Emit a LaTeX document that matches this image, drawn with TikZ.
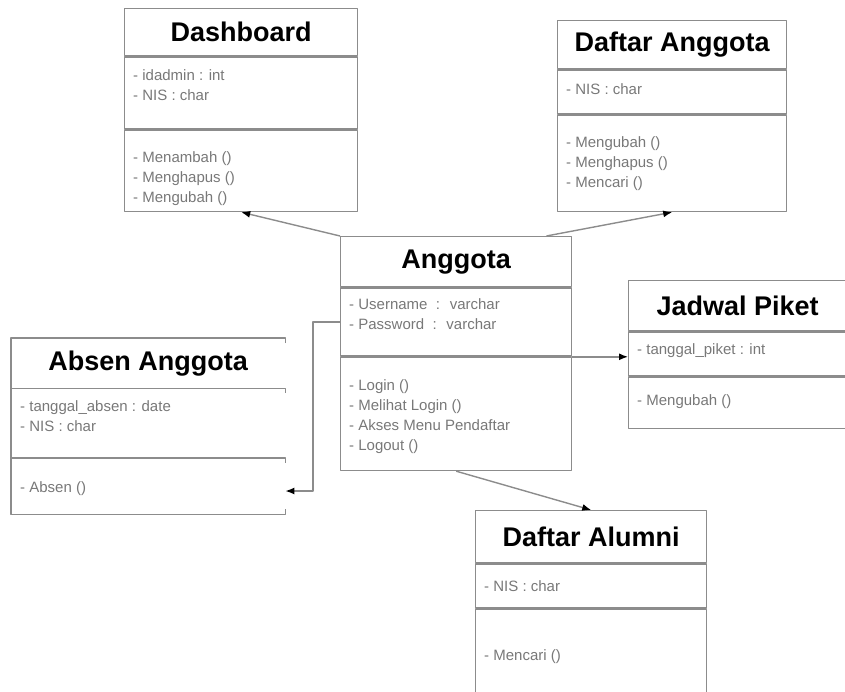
\documentclass[tikz,border=0pt]{standalone}
\usepackage{fontspec}
\setmainfont{Liberation Sans}
\usepackage{tikz}
\usetikzlibrary{arrows.meta, positioning}

\definecolor{linegray}{RGB}{140,140,140}
\definecolor{textgray}{RGB}{120,120,120}

\begin{document}
\begin{tikzpicture}[>={Latex[length=9pt,width=7pt,black]}, line join=bevel, x=1pt, y=-1pt,
        ttl/.style={draw=linegray, line width=1.4pt, anchor=north west, inner sep=0pt,
                font=\fontsize{27}{30}\selectfont\bfseries},
        part/.style={draw=linegray, line width=1.4pt, anchor=north, inner sep=0pt},
        txt/.style={anchor=north west, inner sep=0pt, align=left, text=textgray,
                font=\fontsize{15}{20}\selectfont},
        link/.style={->, draw=linegray, line width=1.4pt},
        edge/.style={draw=linegray, line width=1.4pt}]
        \useasboundingbox (0,0) rectangle (845,692);
        \clip (0,0) rectangle (845,692);

        % Dashboard
        \node[ttl, minimum width=233, minimum height=47] (dashT) at (124,8) {Dashboard};
        \node[part, minimum width=233, minimum height=72] (dashA) at (dashT.south) {};
        \node[part, minimum width=233, minimum height=81] (dashM) at (dashA.south) {};
        \node[txt] (dashAt) at ([shift={(9,13)}]dashA.north west) {- idadmin : int\\- NIS : char};
        \node[txt] (dashMt) at ([shift={(9,22)}]dashM.north west) {- Menambah ()\\- Menghapus ()\\- Mengubah ()};

        % Daftar Anggota
        \node[ttl, minimum width=229, minimum height=48] (dftT) at (557,20) {Daftar Anggota};
        \node[part, minimum width=229, minimum height=44] (dftA) at (dftT.south) {};
        \node[part, minimum width=229, minimum height=96] (dftM) at (dftA.south) {};
        \node[txt] (dftAt) at ([shift={(9,14)}]dftA.north west) {- NIS : char};
        \node[txt] (dftMt) at ([shift={(9,22)}]dftM.north west) {- Mengubah ()\\- Menghapus ()\\- Mencari ()};

        % Anggota
        \node[ttl, minimum width=231, minimum height=50] (angT) at (340,236) {Anggota};
        \node[part, minimum width=231, minimum height=68] (angA) at (angT.south) {};
        \node[part, minimum width=231, minimum height=113] (angM) at (angA.south) {};
        \node[txt] (angAt) at ([shift={(9,11)}]angA.north west) {- Username \ : \ varchar\\- Password \ : \ varchar};
        \node[txt] (angMt) at ([shift={(9,23)}]angM.north west) {- Login ()\\- Melihat Login ()\\- Akses Menu Pendaftar\\- Logout ()};

        % Jadwal Piket
        \node[ttl, minimum width=232, minimum height=50] (jadT) at (628,280) {\hspace*{-14pt}Jadwal Piket};
        \node[part, minimum width=232, minimum height=44] (jadA) at (jadT.south) {};
        \node[part, minimum width=232, minimum height=51] (jadM) at (jadA.south) {};
        \node[txt] (jadAt) at ([shift={(9,12)}]jadA.north west) {- tanggal\_piket : int};
        \node[txt] (jadMt) at ([shift={(9,18)}]jadM.north west) {- Mengubah ()};

        % Absen Anggota (right side left open)
        \node[ttl, draw=none, minimum width=273, minimum height=49] (absT) at (11,338) {Absen Anggota};
        \node[part, draw=none, minimum width=273, minimum height=68] (absA) at (absT.south) {};
        \node[part, draw=none, minimum width=273, minimum height=55] (absM) at (absA.south) {};
        \draw[edge] ([shift={(0,5)}]absT.north east) -- (absT.north east) -- (absT.north west)
                -- (absM.south west) -- (absM.south east) -- ++(0,-5);
        \draw[edge] (absA.north west) -- (absA.north east) -- ++(0,5);
        \draw[edge] (absM.north west) -- (absM.north east) -- ++(0,5);
        \node[txt] (absAt) at ([shift={(9,12)}]absA.north west) {- tanggal\_absen : date\\- NIS : char};
        \node[txt] (absMt) at ([shift={(9,24)}]absM.north west) {- Absen ()};

        % Daftar Alumni
        \node[ttl, minimum width=231, minimum height=52] (alumT) at (475,510) {Daftar Alumni};
        \node[part, minimum width=231, minimum height=44] (alumA) at (alumT.south) {};
        \node[part, minimum width=231, minimum height=100] (alumM) at (alumA.south) {};
        \node[txt] (alumAt) at ([shift={(9,17)}]alumA.north west) {- NIS : char};
        \node[txt] (alumMt) at ([shift={(9,41)}]alumM.north west) {- Mencari ()};

        \draw[link] (angT.north west) -- (dashM.south);
        \draw[link] ([xshift=-26pt]angT.north east) -- (dftM.south);
        \draw[link] (angA.west) -- ++(-27,0) |- ([shift={(0,5)}]absM.east);
        \draw[link] (angM.north east) -- (angM.north east -| jadA.west);
        \draw[link] (angM.south) -- (alumT.north);
\end{tikzpicture}
\end{document}
